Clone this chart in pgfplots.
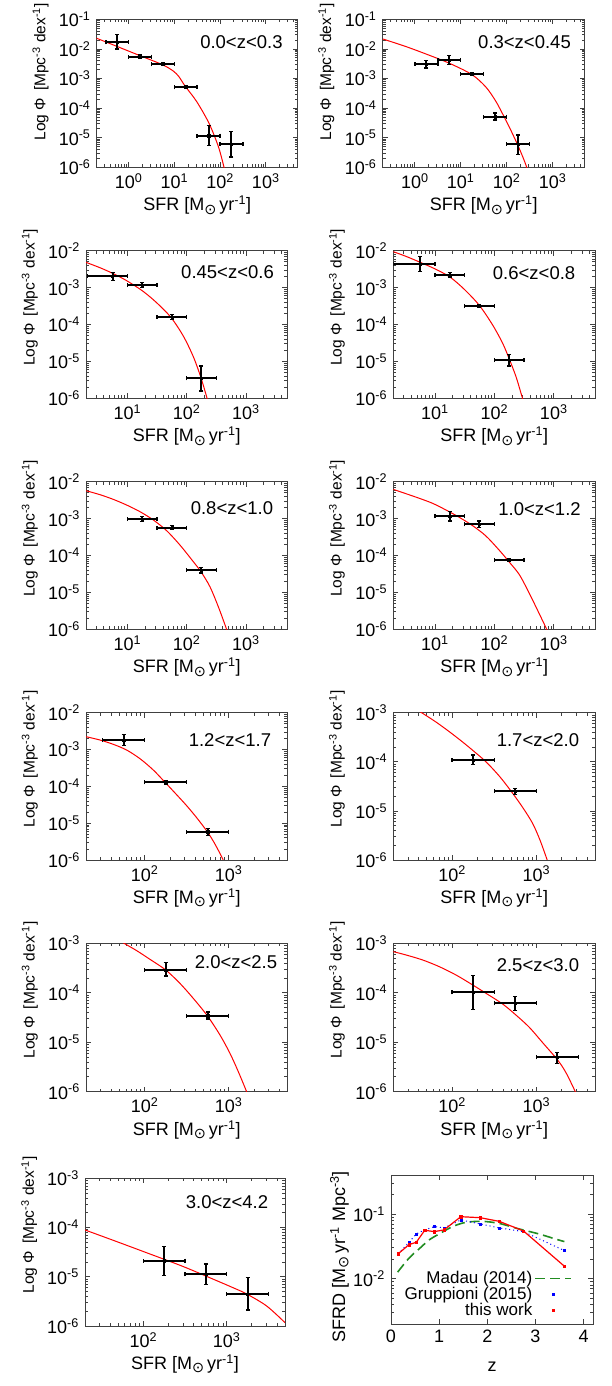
\documentclass[border=0pt]{standalone}
\usepackage{fontspec}
\setmainfont{Liberation Sans}
\newfontfamily\dejavu{DejaVu Sans}
\usepackage{graphicx}
\usepackage{pgfplots}
\pgfplotsset{compat=1.18}
\newcommand{\sun}{\raisebox{-0.35ex}{\dejavu\scalebox{0.8}{⊙}}}
\newcommand{\sps}[1]{\textsuperscript{#1}}
\newcommand{\tenlab}{10\sps{\pgfmathparse{int(round(\tick/2.302585))}\pgfmathresult}}
\newcommand{\plab}{\fontsize{18.5}{22}\selectfont}
\definecolor{mgreen}{rgb}{0.13,0.55,0.13}
\pgfplotsset{
  cmnstyle/.style={
    scale only axis,
    axis line style={black!75, line width=0.9pt},
    major tick length=5pt, minor tick length=3pt,
    tick style={black!75, line width=0.7pt},
  },
  lfpanel/.style={
    cmnstyle,
    xticklabel={\tenlab}, yticklabel={\tenlab},
    minor xtick={0.2,0.3,0.4,0.5,0.6,0.7,0.8,0.9,2,3,4,5,6,7,8,9,20,30,40,50,60,70,80,90,200,300,400,500,600,700,800,900,2000,3000,4000,5000},
    minor ytick={2e-6,3e-6,4e-6,5e-6,6e-6,7e-6,8e-6,9e-6,2e-5,3e-5,4e-5,5e-5,6e-5,7e-5,8e-5,9e-5,2e-4,3e-4,4e-4,5e-4,6e-4,7e-4,8e-4,9e-4,0.002,0.003,0.004,0.005,0.006,0.007,0.008,0.009,0.02,0.03,0.04,0.05,0.06,0.07,0.08,0.09},
    xlabel={SFR [M\sun\,yr\sps{-1}]},
    ylabel={Log Φ\ \,[Mpc\sps{-3} dex\sps{-1}]},
    xlabel style={at={(axis description cs:0.5,-0.257)}, anchor=center},
    ylabel style={at={(axis description cs:-0.279,0.685)}, anchor=center, font=\fontsize{15.5}{18}\selectfont},
    xmax=5000, ymin=1e-6,
  },
  toprow/.style={ylabel style={at={(axis description cs:-0.279,0.645)}}},
  fitline/.style={red, line width=1pt, smooth, no marks},
  ebs/.style={black, only marks, mark=square*, mark size=1.1pt},
  legline/.style={legend image code/.code={\draw[##1] (0pt,0pt) -- (36pt,0pt);}},
  legmark/.style={legend image code/.code={\draw[##1] plot coordinates {(18pt,0pt)};}},
}
\begin{document}
\fontsize{18}{21.6}\selectfont
\begin{tikzpicture}
\useasboundingbox (0,0) rectangle (612pt,1386pt);
% ---------- P1
\begin{loglogaxis}[lfpanel, toprow, width=201pt, height=148pt, at={(96.7pt,1218.7pt)}, anchor=south west,
  xmin=0.2, ymax=0.1, xtick={1,10,100,1000}, ytick={1e-6,1e-5,1e-4,1e-3,1e-2,1e-1}]
\addplot[fitline] coordinates {(0.2,0.0228) (0.566,0.0120) (1.77,5.9e-3) (5.47,2.93e-3) (9.5,1.78e-3) (12.6,1.15e-3) (17.1,5.6e-4) (30.8,1.66e-4) (57.4,3.06e-5) (91.9,4.99e-6) (122,1.0e-6) (152,2.2e-7)};
\addplot[ebs, error bars/.cd, x dir=both, x explicit, y dir=both, y explicit, error bar style={line width=2pt, black}, error mark options={rotate=90, mark size=2pt, line width=1.5pt, black}]
  table[x=x,y=y,x error minus=xm,x error plus=xp,y error minus=ym,y error plus=yp] {
x y xm xp ym yp
0.5623 0.0167 0.2461 0.4377 0.0069 0.0143
1.778 0.00548 0.7783 1.384 0.00068 0.00072
5.623 0.0030 2.461 4.377 0.0003 0.0003
17.78 5.05e-4 7.783 13.84 0.45e-4 0.55e-4
56.23 1.17e-5 24.61 43.77 0.63e-5 1.39e-5
177.8 6.2e-6 77.83 138.4 4.0e-6 9.8e-6
};
\node[font=\plab] at (axis description cs:0.72,0.849) {0.0<z<0.3};
\end{loglogaxis}
% ---------- P2
\begin{loglogaxis}[lfpanel, toprow, width=202pt, height=148pt, at={(382.7pt,1218.7pt)}, anchor=south west,
  xmin=0.2, ymax=0.1, xtick={1,10,100,1000}, ytick={1e-6,1e-5,1e-4,1e-3,1e-2,1e-1}]
\addplot[fitline] coordinates {(0.2,0.02168) (0.644,0.01194) (1.815,6.58e-3) (5.65,3.27e-3) (17.6,1.35e-3) (35.6,5.05e-4) (58.6,1.66e-4) (89.1,4.89e-5) (124.5,1.73e-5) (173.8,5.69e-6) (223,2.29e-6) (273,1.0e-6) (339,3.3e-7)};
\addplot[ebs, error bars/.cd, x dir=both, x explicit, y dir=both, y explicit, error bar style={line width=2pt, black}, error mark options={rotate=90, mark size=2pt, line width=1.5pt, black}]
  table[x=x,y=y,x error minus=xm,x error plus=xp,y error minus=ym,y error plus=yp] {
x y xm xp ym yp
1.778 0.0031 0.7783 1.384 0.00083 0.0009
5.623 0.00423 2.461 4.377 0.00123 0.00167
17.78 0.00142 7.783 13.84 0.00017 0.00018
56.23 5.15e-5 24.61 43.77 1.15e-5 1.55e-5
177.8 6.2e-6 77.83 138.4 3.45e-6 6.2e-6
};
\node[font=\plab] at (axis description cs:0.702,0.849) {0.3<z<0.45};
\end{loglogaxis}
% ---------- P3
\begin{loglogaxis}[lfpanel, width=201.3pt, height=147.6pt, at={(86pt,987.7pt)}, anchor=south west,
  xmin=2, ymax=0.01, xtick={10,100,1000}, ytick={1e-6,1e-5,1e-4,1e-3,1e-2}]
\addplot[fitline] coordinates {(2.0,4.83e-3) (3.44,3.46e-3) (5.64,2.43e-3) (9.71,1.54e-3) (18.1,8.07e-4) (31.1,3.90e-4) (54.3,1.56e-4) (87.7,4.88e-5) (129.4,1.35e-5) (172,3.86e-6) (217,1.11e-6) (247,4.83e-7)};
\addplot[ebs, error bars/.cd, x dir=both, x explicit, y dir=both, y explicit, error bar style={line width=2pt, black}, error mark options={rotate=90, mark size=2pt, line width=1.5pt, black}]
  table[x=x,y=y,x error minus=xm,x error plus=xp,y error minus=ym,y error plus=yp] {
x y xm xp ym yp
5.623 2.06e-3 3.523 4.377 0.52e-3 0.47e-3
17.78 1.17e-3 7.783 13.84 0.17e-3 0.19e-3
56.23 1.6e-4 24.61 43.77 0.22e-4 0.28e-4
177.8 3.48e-6 77.83 138.4 1.88e-6 4.02e-6
};
\node[font=\plab] at (axis description cs:0.703,0.858) {0.45<z<0.6};
\end{loglogaxis}
% ---------- P4
\begin{loglogaxis}[lfpanel, width=202pt, height=147.6pt, at={(393.3pt,987.7pt)}, anchor=south west,
  xmin=2, ymax=0.01, xtick={10,100,1000}, ytick={1e-6,1e-5,1e-4,1e-3,1e-2}]
\addplot[fitline] coordinates {(2.0,9.4e-3) (3.27,7.02e-3) (5.69,4.83e-3) (10.45,3.12e-3) (18.2,1.90e-3) (31.3,8.97e-4) (56.0,3.30e-4) (93.8,9.68e-5) (138.3,3.09e-5) (176.6,1.21e-5) (231.7,3.86e-6) (292.4,1.11e-6) (341,4.83e-7)};
\addplot[ebs, error bars/.cd, x dir=both, x explicit, y dir=both, y explicit, error bar style={line width=2pt, black}, error mark options={rotate=90, mark size=2pt, line width=1.5pt, black}]
  table[x=x,y=y,x error minus=xm,x error plus=xp,y error minus=ym,y error plus=yp] {
x y xm xp ym yp
5.623 4.35e-3 3.593 4.377 1.65e-3 2.52e-3
17.78 2.19e-3 7.783 13.84 0.29e-3 0.34e-3
56.23 3.17e-4 24.61 43.77 0.22e-4 0.23e-4
177.8 1.09e-5 77.83 138.4 0.34e-5 0.47e-5
};
\node[font=\plab] at (axis description cs:0.697,0.847) {0.6<z<0.8};
\end{loglogaxis}
% ---------- P5
\begin{loglogaxis}[lfpanel, width=201.3pt, height=147.6pt, at={(86pt,756.7pt)}, anchor=south west,
  xmin=2, ymax=0.01, xtick={10,100,1000}, ytick={1e-6,1e-5,1e-4,1e-3,1e-2}]
\addplot[fitline] coordinates {(2.0,5.70e-3) (3.44,4.45e-3) (5.78,3.32e-3) (9.71,2.33e-3) (16.3,1.54e-3) (27.4,9.16e-4) (45.9,4.71e-4) (77.1,1.92e-4) (129.4,6.81e-5) (174.2,3.65e-5) (247,1.43e-5) (342,4.11e-6) (472,1.0e-6) (538,5.14e-7)};
\addplot[ebs, error bars/.cd, x dir=both, x explicit, y dir=both, y explicit, error bar style={line width=2pt, black}, error mark options={rotate=90, mark size=2pt, line width=1.5pt, black}]
  table[x=x,y=y,x error minus=xm,x error plus=xp,y error minus=ym,y error plus=yp] {
x y xm xp ym yp
17.78 9.75e-4 7.783 13.84 1.45e-4 1.55e-4
56.23 5.68e-4 24.61 43.77 0.68e-4 0.72e-4
177.8 4.05e-5 77.83 138.4 0.65e-5 0.65e-5
};
\node[font=\plab] at (axis description cs:0.725,0.822) {0.8<z<1.0};
\end{loglogaxis}
% ---------- P6
\begin{loglogaxis}[lfpanel, width=202pt, height=147.6pt, at={(393.3pt,756.7pt)}, anchor=south west,
  xmin=2, ymax=0.01, xtick={10,100,1000}, ytick={1e-6,1e-5,1e-4,1e-3,1e-2}]
\addplot[fitline] coordinates {(2.0,6.19e-3) (3.27,4.73e-3) (5.47,3.55e-3) (9.18,2.59e-3) (15.4,1.71e-3) (25.8,1.08e-3) (43.2,6.43e-4) (72.4,3.37e-4) (121.6,1.38e-4) (179,6.6e-5) (264,3.02e-5) (388,9.44e-6) (573,2.60e-6) (760,1.0e-6) (899,5.14e-7)};
\addplot[ebs, error bars/.cd, x dir=both, x explicit, y dir=both, y explicit, error bar style={line width=2pt, black}, error mark options={rotate=90, mark size=2pt, line width=1.5pt, black}]
  table[x=x,y=y,x error minus=xm,x error plus=xp,y error minus=ym,y error plus=yp] {
x y xm xp ym yp
17.78 1.17e-3 7.783 13.84 0.31e-3 0.37e-3
56.23 6.98e-4 24.61 43.77 1.3e-4 1.62e-4
177.8 7.55e-5 77.83 138.4 0.75e-5 0.85e-5
};
\node[font=\plab] at (axis description cs:0.724,0.813) {1.0<z<1.2};
\end{loglogaxis}
% ---------- P7
\begin{loglogaxis}[lfpanel, width=201.3pt, height=147.3pt, at={(86pt,526pt)}, anchor=south west,
  xmin=20, ymax=0.01, xtick={100,1000}, ytick={1e-6,1e-5,1e-4,1e-3,1e-2}]
\addplot[fitline] coordinates {(20,2.23e-3) (29.4,1.81e-3) (42.4,1.38e-3) (61.0,9.68e-4) (87.9,5.64e-4) (126.8,2.77e-4) (174.6,1.29e-4) (240,5.94e-5) (316,2.99e-5) (416,1.41e-5) (557,5.87e-6) (669,3.02e-6) (803,1.39e-6) (950,6.2e-7)};
\addplot[ebs, error bars/.cd, x dir=both, x explicit, y dir=both, y explicit, error bar style={line width=2pt, black}, error mark options={rotate=90, mark size=2pt, line width=1.5pt, black}]
  table[x=x,y=y,x error minus=xm,x error plus=xp,y error minus=ym,y error plus=yp] {
x y xm xp ym yp
56.23 1.81e-3 24.61 43.77 0.51e-3 0.77e-3
177.8 1.29e-4 77.83 138.4 0.14e-4 0.16e-4
562.3 5.87e-6 246.1 437.7 1.29e-6 1.37e-6
};
\node[font=\plab] at (axis description cs:0.715,0.815) {1.2<z<1.7};
\end{loglogaxis}
% ---------- P8
\begin{loglogaxis}[lfpanel, width=202pt, height=147.3pt, at={(393.3pt,526pt)}, anchor=south west,
  xmin=20, ymax=0.001, xtick={100,1000}, ytick={1e-6,1e-5,1e-4,1e-3}]
\addplot[fitline] coordinates {(37.2,1.19e-3) (43.4,1.0e-3) (64.2,6.46e-4) (92.5,4.10e-4) (133,2.53e-4) (183,1.61e-4) (252,1.0e-4) (362,5.13e-5) (499,2.54e-5) (686,1.18e-5) (901,5.57e-6) (1102,2.55e-6) (1321,1.08e-6) (1449,6.76e-7)};
\addplot[ebs, error bars/.cd, x dir=both, x explicit, y dir=both, y explicit, error bar style={line width=2pt, black}, error mark options={rotate=90, mark size=2pt, line width=1.5pt, black}]
  table[x=x,y=y,x error minus=xm,x error plus=xp,y error minus=ym,y error plus=yp] {
x y xm xp ym yp
177.8 1.09e-4 77.83 138.4 0.203e-4 0.28e-4
562.3 2.54e-5 246.1 437.7 0.37e-5 0.29e-5
};
\node[font=\plab] at (axis description cs:0.716,0.815) {1.7<z<2.0};
\end{loglogaxis}
% ---------- P9
\begin{loglogaxis}[lfpanel, width=201.3pt, height=148.4pt, at={(86pt,294.3pt)}, anchor=south west,
  xmin=20, ymax=0.001, xtick={100,1000}, ytick={1e-6,1e-5,1e-4,1e-3}]
\addplot[fitline] coordinates {(50.8,1.13e-3) (56.8,1.0e-3) (80.2,7.11e-4) (115.6,4.74e-4) (178,2.89e-4) (263,1.55e-4) (379,7.71e-5) (557,3.44e-5) (789,1.40e-5) (1038,5.96e-6) (1304,2.54e-6) (1637,1.0e-6) (1795,6.27e-7)};
\addplot[ebs, error bars/.cd, x dir=both, x explicit, y dir=both, y explicit, error bar style={line width=2pt, black}, error mark options={rotate=90, mark size=2pt, line width=1.5pt, black}]
  table[x=x,y=y,x error minus=xm,x error plus=xp,y error minus=ym,y error plus=yp] {
x y xm xp ym yp
177.8 2.89e-4 77.83 138.4 0.71e-4 1.17e-4
562.3 3.44e-5 246.1 437.7 0.5e-5 0.64e-5
};
\node[font=\plab] at (axis description cs:0.745,0.872) {2.0<z<2.5};
\end{loglogaxis}
% ---------- P10
\begin{loglogaxis}[lfpanel, width=202pt, height=148.4pt, at={(393.3pt,294.3pt)}, anchor=south west,
  xmin=20, ymax=0.001, xtick={100,1000}, ytick={1e-6,1e-5,1e-4,1e-3}]
\addplot[fitline] coordinates {(20,6.78e-4) (28.3,5.81e-4) (44.6,4.60e-4) (70.3,3.37e-4) (110.9,2.29e-4) (175,1.44e-4) (252,9.75e-5) (397,5.93e-5) (571,3.55e-5) (824,2.00e-5) (1186,9.8e-6) (1786,4.37e-6) (2244,2.42e-6) (2897,1.0e-6) (3170,7.1e-7)};
\addplot[ebs, error bars/.cd, x dir=both, x explicit, y dir=both, y explicit, error bar style={line width=2pt, black}, error mark options={rotate=90, mark size=2pt, line width=1.5pt, black}]
  table[x=x,y=y,x error minus=xm,x error plus=xp,y error minus=ym,y error plus=yp] {
x y xm xp ym yp
177.8 1.02e-4 77.83 138.4 0.558e-4 1.2e-4
562.3 6.11e-5 246.1 437.7 1.76e-5 2.23e-5
1778 4.94e-6 778.3 1384 1.21e-6 1.2e-6
};
\node[font=\plab] at (axis description cs:0.716,0.854) {2.5<z<3.0};
\end{loglogaxis}
% ---------- P11
\begin{loglogaxis}[lfpanel, width=200pt, height=147.7pt, at={(85pt,60pt)}, anchor=south west,
  xmin=20, ymax=0.001, xtick={100,1000}, ytick={1e-6,1e-5,1e-4,1e-3}]
\addplot[fitline] coordinates {(20,8.93e-5) (48.0,5.18e-5) (120.3,2.90e-5) (302,1.61e-5) (758,8.34e-6) (1202,5.96e-6) (1734,4.48e-6) (3013,2.55e-6) (5000,1.17e-6)};
\addplot[ebs, error bars/.cd, x dir=both, x explicit, y dir=both, y explicit, error bar style={line width=2pt, black}, error mark options={rotate=90, mark size=2pt, line width=1.5pt, black}]
  table[x=x,y=y,x error minus=xm,x error plus=xp,y error minus=ym,y error plus=yp] {
x y xm xp ym yp
177.8 2.13e-5 77.83 138.4 1.08e-5 1.96e-5
562.3 1.12e-5 246.1 437.7 0.417e-5 0.7e-5
1778 4.48e-6 778.3 1384 2.36e-6 5.12e-6
};
\node[font=\plab] at (axis description cs:0.71,0.842) {3.0<z<4.2};
\end{loglogaxis}
% ---------- P12
\begin{semilogyaxis}[cmnstyle, width=202.3pt, height=149pt, at={(391pt,62pt)}, anchor=south west,
  xmin=0, xmax=4.2, ymin=0.002, ymax=0.4,
  xtick={0,1,2,3,4}, xticklabels={0,1,2,3,4}, ytick={0.01,0.1},
  minor ytick={0.002,0.003,0.004,0.005,0.006,0.007,0.008,0.009,0.02,0.03,0.04,0.05,0.06,0.07,0.08,0.09,0.2,0.3,0.4},
  yticklabel={\tenlab},
  xlabel={z}, ylabel={SFRD [M\sun\,yr\sps{-1} Mpc\sps{-3}]},
  xlabel style={at={(axis description cs:0.5,-0.29)}, anchor=center},
  ylabel style={at={(axis description cs:-0.255,0.45)}, anchor=center},
  legend style={draw=none, fill=none, at={(axis description cs:0.91,0.385)}, anchor=north east, row sep=-3pt, font=\fontsize{17}{20}\selectfont},
  legend cell align=right, legend plot pos=right]
\addplot[mgreen, line width=1.6pt, dash pattern=on 10pt off 5pt, smooth, no marks, legline]
  coordinates {(0.138,0.01265) (0.379,0.0210) (0.586,0.029) (0.793,0.0398) (1.0,0.0492) (1.277,0.0638) (1.553,0.0743) (1.898,0.0769) (2.242,0.0716) (2.656,0.0588) (3.07,0.0492) (3.45,0.0403) (3.6,0.0375)};
\addlegendentry{Madau (2014)}
\addplot[blue, line width=1pt, dash pattern=on 1pt off 3pt, forget plot]
  coordinates {(0.15,0.0243) (0.375,0.0366) (0.525,0.0492) (0.7,0.0568) (0.9,0.0638) (1.1,0.0609) (1.45,0.0809) (1.85,0.0702) (2.25,0.0609) (2.75,0.0534) (3.6,0.0272)};
\addplot[blue, only marks, mark=square*, mark size=1pt, legmark]
  coordinates {(0.15,0.0243) (0.375,0.0366) (0.525,0.0492) (0.7,0.0568) (0.9,0.0638) (1.1,0.0609) (1.45,0.0809) (1.85,0.0702) (2.25,0.0609) (2.75,0.0534) (3.6,0.0272)};
\addlegendentry{Gruppioni (2015)}
\addplot[red, line width=1.2pt, forget plot]
  coordinates {(0.15,0.0243) (0.375,0.0337) (0.525,0.0366) (0.7,0.056) (0.9,0.0534) (1.1,0.0568) (1.45,0.0908) (1.85,0.0877) (2.25,0.0769) (2.75,0.0547) (3.6,0.0156)};
\addplot[red, only marks, mark=square*, mark size=1.2pt, legmark]
  coordinates {(0.15,0.0243) (0.375,0.0337) (0.525,0.0366) (0.7,0.056) (0.9,0.0534) (1.1,0.0568) (1.45,0.0908) (1.85,0.0877) (2.25,0.0769) (2.75,0.0547) (3.6,0.0156)};
\addlegendentry{this work}
\end{semilogyaxis}
\end{tikzpicture}
\end{document}
